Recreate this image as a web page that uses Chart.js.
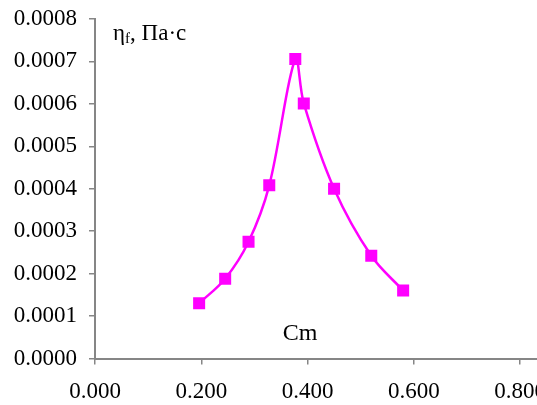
<!DOCTYPE html>
<html>
<head>
<meta charset="utf-8">
<script src="https://cdn.jsdelivr.net/npm/chart.js@4"></script>
<style>
    html, body {
        margin: 0;
        padding: 0;
        background: #fff;
        overflow: hidden;
    }

    #wrap {
        width: 600px;
        height: 405px;
    }
</style>
</head>
<body>
<div id="wrap"><canvas id="viscosityChart"></canvas></div>
<script>
const CM_VALUES = [0.196, 0.245, 0.289, 0.328, 0.377, 0.393, 0.450, 0.520, 0.580];
const ETA_VALUES = [0.000130, 0.000188, 0.000275, 0.000408, 0.000706, 0.000601, 0.000400, 0.000242, 0.000160];
const X_TICKS = [0, 0.2, 0.4, 0.6, 0.8];
const Y_TICKS = [0, 0.0001, 0.0002, 0.0003, 0.0004, 0.0005, 0.0006, 0.0007, 0.0008];

const SERIF = "'Liberation Serif', 'Times New Roman', serif";
const AXIS_GREY = "#868686";
const MAGENTA = "#ff00ff";

const points = CM_VALUES.map((cm, index) => ({ x: cm, y: ETA_VALUES[index] }));

// labels drawn inside the plot: eta with subscript f, and the Cm caption
const annotationPlugin = {
    id: "annotations",
    afterDatasetsDraw(chart) {

        const ctx = chart.ctx;
        const xScale = chart.scales.x;
        const yScale = chart.scales.y;

        ctx.save();
        ctx.fillStyle = "#000";
        ctx.textBaseline = "alphabetic";

        let x = xScale.getPixelForValue(0.034);
        const y = yScale.getPixelForValue(0.000751);

        ctx.textAlign = "left";
        ctx.font = `23px ${SERIF}`;
        ctx.fillText("η", x, y);
        x += ctx.measureText("η").width;

        ctx.font = `15px ${SERIF}`;
        ctx.fillText("f", x, y + 3);
        x += ctx.measureText("f").width;

        ctx.font = `23px ${SERIF}`;
        ctx.fillText(", Па·с", x, y);

        ctx.textAlign = "center";
        ctx.font = `24px ${SERIF}`;
        ctx.fillText("Cm", xScale.getPixelForValue(0.386), yScale.getPixelForValue(0.0000436));

        ctx.restore();
    }
};

function keepTicks(values) {

    return (scale) => {
        scale.ticks = values.map((value) => ({ value }));
    };
}

new Chart(document.getElementById("viscosityChart").getContext("2d"), {
    type: "scatter",
    data: {
        datasets: [
            {
                data: points,
                showLine: true,
                borderColor: MAGENTA,
                borderWidth: 2.5,
                backgroundColor: MAGENTA,
                pointStyle: "rect",
                pointRadius: 8.5,
                pointBorderWidth: 0,
                pointBackgroundColor: MAGENTA,
                tension: 0.35
            }
        ]
    },
    options: {
        responsive: true,
        maintainAspectRatio: false,
        animation: false,
        events: [],
        layout: {
            padding: { left: 0, right: 60, top: 19, bottom: 0 }
        },
        plugins: {
            legend: { display: false },
            tooltip: { enabled: false }
        },
        scales: {
            x: {
                type: "linear",
                min: 0,
                max: 0.8376,
                afterBuildTicks: keepTicks(X_TICKS),
                afterFit: (scale) => {
                    scale.height = 46.5;
                },
                border: { color: AXIS_GREY, width: 2 },
                grid: {
                    drawOnChartArea: false,
                    tickLength: 6,
                    color: AXIS_GREY,
                    lineWidth: 1.5
                },
                ticks: {
                    color: "#000",
                    padding: 14,
                    maxRotation: 0,
                    autoSkip: false,
                    font: { family: SERIF, size: 23 },
                    callback: (value) => Number(value).toFixed(3)
                }
            },
            y: {
                type: "linear",
                min: 0,
                max: 0.0008,
                afterBuildTicks: keepTicks(Y_TICKS),
                afterFit: (scale) => {
                    scale.width = 95;
                    scale.paddingTop = 0;
                    scale.paddingBottom = 0;
                },
                border: { color: AXIS_GREY, width: 2 },
                grid: {
                    drawOnChartArea: false,
                    tickLength: 6,
                    color: AXIS_GREY,
                    lineWidth: 1.5
                },
                ticks: {
                    color: "#000",
                    padding: 12,
                    autoSkip: false,
                    font: { family: SERIF, size: 23 },
                    callback: (value) => Number(value).toFixed(4)
                }
            }
        }
    },
    plugins: [annotationPlugin]
});
</script>
</body>
</html>
